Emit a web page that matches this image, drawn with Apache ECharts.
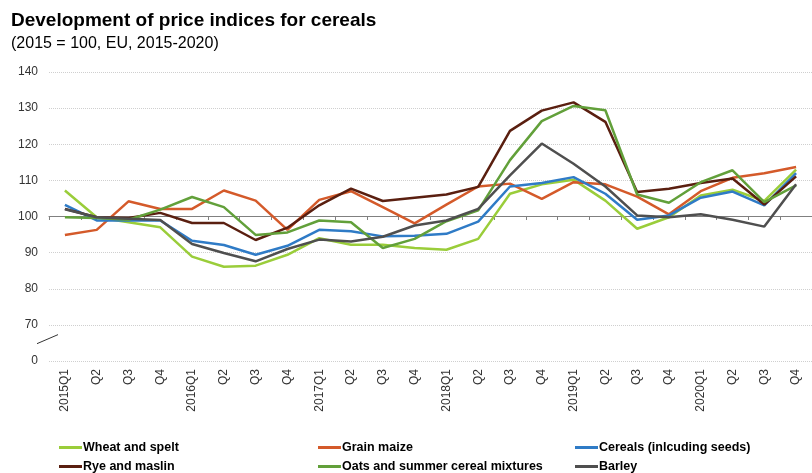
<!DOCTYPE html>
<html>
<head>
<meta charset="utf-8">
<script src="https://cdn.jsdelivr.net/npm/echarts@6/dist/echarts.min.js"></script>
<style>html,body{margin:0;padding:0;background:#fff}#c{width:812px;height:473px}</style>
</head>
<body>
<div id="c"></div>
<script>
var categories = ['2015Q1','Q2','Q3','Q4','2016Q1','Q2','Q3','Q4','2017Q1','Q2','Q3','Q4',
                  '2018Q1','Q2','Q3','Q4','2019Q1','Q2','Q3','Q4','2020Q1','Q2','Q3','Q4'];
var wheat   = [107.2, 99.8, 98.4, 97.0, 88.9, 86.1, 86.4, 89.4, 94.0, 92.2, 92.2, 91.3, 90.8, 93.8, 106.3, 108.9, 110.2, 104.4, 96.6, 99.8, 105.8, 107.4, 104.3, 113.0];
var maize   = [94.9, 96.3, 104.2, 102.1, 102.1, 107.2, 104.4, 96.3, 104.6, 107.0, 102.6, 98.1, 103.3, 108.3, 109.1, 104.9, 109.5, 108.9, 105.5, 100.6, 107.0, 110.7, 112.0, 113.7];
var cereals = [103.2, 98.9, 98.9, 98.9, 93.3, 92.1, 89.4, 91.9, 96.3, 95.9, 94.5, 94.7, 95.2, 98.6, 108.3, 109.3, 110.9, 106.3, 99.1, 100.3, 105.2, 106.9, 103.1, 112.0];
var rye     = [102.1, 99.8, 99.6, 101.0, 98.2, 98.2, 93.5, 96.9, 103.1, 107.7, 104.3, 105.2, 106.1, 108.2, 123.7, 129.3, 131.6, 126.2, 106.8, 107.7, 109.3, 110.5, 103.3, 111.1];
var oats    = [99.8, 99.6, 99.1, 101.9, 105.4, 102.6, 94.9, 95.6, 98.9, 98.4, 91.3, 93.8, 98.7, 101.7, 115.6, 126.4, 130.6, 129.4, 106.1, 103.8, 109.5, 112.8, 104.0, 108.6];
var barley  = [102.0, 99.8, 99.4, 99.0, 92.4, 89.9, 87.6, 91.0, 93.6, 93.1, 94.4, 97.5, 98.9, 102.1, 111.4, 120.2, 114.6, 108.3, 100.3, 99.8, 100.6, 99.1, 97.2, 108.9];

var seriesNames = ['Wheat and spelt','Grain maize','Cereals (inlcuding seeds)','Rye and maslin','Oats and summer cereal mixtures','Barley'];
var seriesData = [wheat, maize, cereals, rye, oats, barley];
var colors = ['#9acd3a','#d45a2a','#2f7bc6','#5a1f10','#62a03a','#4f4f4f'];

var FONT = "'Liberation Sans', Arial, sans-serif";
var chart = echarts.init(document.getElementById('c'), null, {renderer:'canvas'});

var series = seriesNames.map(function(n, i){
  return {
    name: n, type: 'line', data: seriesData[i], xAxisIndex: 0, yAxisIndex: 0,
    symbol: 'none', smooth: false,
    lineStyle: {width: 2.5, color: colors[i]}, itemStyle: {color: colors[i]}
  };
});

function legendCol(left, names){
  return {
    left: left, top: 441, height: 60, width: 250, orient: 'vertical', itemGap: 6, padding: 0,
    itemWidth: 23, itemHeight: 14, data: names,
    icon: 'path://M0,0 L23,0 L23,3 L0,3 Z',
    textStyle: {fontFamily: FONT, fontSize: 12.5, fontWeight: 'bold', color: '#000', padding: [0,0,0,-4]}
  };
}

chart.setOption({
  animation: false,
  backgroundColor: '#fff',
  textStyle: {fontFamily: FONT},
  title: {
    text: 'Development of price indices for cereals',
    subtext: '(2015 = 100, EU, 2015-2020)',
    left: 11, top: 10, itemGap: 3, padding: 0,
    textStyle: {fontFamily: FONT, fontSize: 19, fontWeight: 'bold', color: '#000', lineHeight: 22},
    subtextStyle: {fontFamily: FONT, fontSize: 16, color: '#000', lineHeight: 18}
  },
  legend: [
    legendCol(59, [seriesNames[0], seriesNames[3]]),
    legendCol(318, [seriesNames[1], seriesNames[4]]),
    legendCol(575, [seriesNames[2], seriesNames[5]])
  ],
  grid: [
    {left: 49, width: 773, top: 72, height: 289},
    {left: 49, width: 773, top: 72, height: 144}
  ],
  xAxis: [
    {
      type: 'category', data: categories, gridIndex: 0, boundaryGap: true,
      axisLine: {show: false}, axisTick: {show: false},
      axisLabel: {rotate: 90, margin: 8, fontSize: 12, color: '#333', fontFamily: FONT, interval: 0}
    },
    {
      type: 'category', data: categories, gridIndex: 1, boundaryGap: true, position: 'bottom',
      axisLine: {show: true, lineStyle: {color: '#808080', width: 1}},
      axisTick: {show: true, length: 4, interval: 0, lineStyle: {color: '#808080'}},
      axisLabel: {show: false}
    }
  ],
  yAxis: [
    {
      type: 'value', gridIndex: 0, min: 60, max: 140, interval: 10,
      axisLine: {show: false}, axisTick: {show: false},
      splitLine: {show: true, lineStyle: {color: '#cfcfcf', type: 'dotted', width: 1}},
      axisLabel: {
        margin: 11, fontSize: 12, color: '#333', fontFamily: FONT,
        formatter: function(v){ return v === 60 ? '0' : String(v); }
      }
    },
    {
      type: 'value', gridIndex: 1, min: 100, max: 140, show: false,
      splitLine: {show: false}
    }
  ],
  series: series
});

// axis break mark on the y-axis between 0 and 70
var y1 = chart.convertToPixel({yAxisIndex: 0}, 64.8);
var y2 = chart.convertToPixel({yAxisIndex: 0}, 67.3);
chart.setOption({
  graphic: [{
    type: 'line', silent: true,
    shape: {x1: 37, y1: y1, x2: 58, y2: y2},
    style: {stroke: '#333', lineWidth: 1}
  }]
});
</script>
</body>
</html>
